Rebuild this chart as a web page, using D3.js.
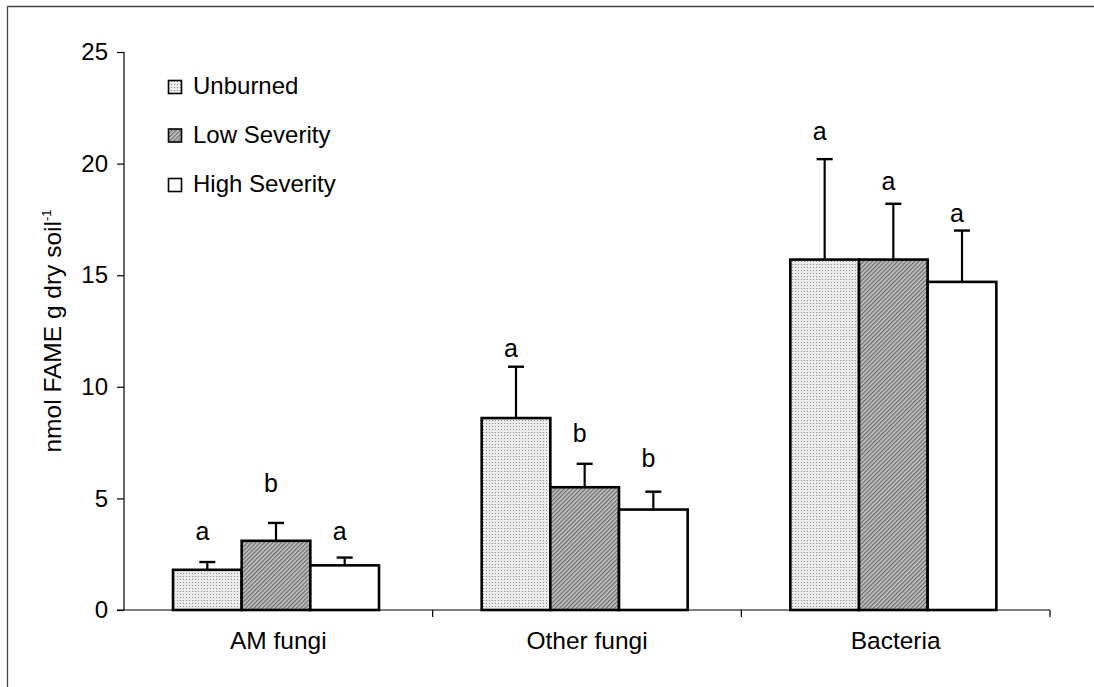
<!DOCTYPE html>
<html><head><meta charset="utf-8">
<script src="https://cdn.jsdelivr.net/npm/d3@7"></script>
<style>body{margin:0;background:#fff}svg{display:block}text{font-family:"Liberation Sans",Arial,sans-serif;fill:#000}</style>
</head><body><svg id="c" width="1094" height="687"></svg>
<script>
const categories = ["AM fungi", "Other fungi", "Bacteria"];
const series = ["Unburned", "Low Severity", "High Severity"];
const means = {
  "Unburned":      [1.8, 8.6, 15.7],
  "Low Severity":  [3.1, 5.5, 15.7],
  "High Severity": [2.0, 4.5, 14.7]
};
const errors = {
  "Unburned":      [0.35, 2.3, 4.5],
  "Low Severity":  [0.8, 1.05, 2.5],
  "High Severity": [0.35, 0.8, 2.3]
};
const letters = {
  "Unburned":      ["a", "a", "a"],
  "Low Severity":  ["b", "b", "a"],
  "High Severity": ["a", "b", "a"]
};
// height (in y units) at which each significance letter sits
const letterAt = {
  "Unburned":      [3.14, 11.33, 21.06],
  "Low Severity":  [5.29, 7.53, 18.82],
  "High Severity": [3.14, 6.41, 17.38]
};
const yTicks = [0, 5, 10, 15, 20, 25];

(function(){
const svg = d3.select("#c");
const defs = svg.append("defs");
const dots = defs.append("pattern").attr("id","dots").attr("width",3).attr("height",3).attr("patternUnits","userSpaceOnUse");
dots.append("rect").attr("width",3).attr("height",3).attr("fill","#ececec");
dots.append("rect").attr("width",1).attr("height",1).attr("fill","#8a8a8a");
const hatch = defs.append("pattern").attr("id","hatch").attr("width",3).attr("height",3).attr("patternUnits","userSpaceOnUse").attr("patternTransform","rotate(45)");
hatch.append("rect").attr("width",3).attr("height",3).attr("fill","#c6c6c6");
hatch.append("rect").attr("width",1.3).attr("height",3).attr("fill","#6a6a6a");
const fills = {"Unburned":"url(#dots)","Low Severity":"url(#hatch)","High Severity":"#fff"};

// frame
svg.append("line").attr("x1",8).attr("x2",1094).attr("y1",6.5).attr("y2",6.5).attr("stroke","#444").attr("stroke-width",1.3);
svg.append("line").attr("x1",7.5).attr("x2",7.5).attr("y1",6).attr("y2",687).attr("stroke","#444").attr("stroke-width",1.3);

const pL = 124, pR = 1050, pT = 52, pB = 610;
const y = d3.scaleLinear().domain([0,25]).range([pB, pT]);
const x0 = d3.scaleBand().domain(categories).range([pL, pR]);
const x1 = d3.scaleBand().domain(series).range([49, 49+206]);

// y axis
const ya = svg.append("g").attr("transform",`translate(${pL},0)`)
  .call(d3.axisLeft(y).tickValues(yTicks).tickSize(7).tickPadding(9));
ya.select(".domain").attr("stroke","#000").attr("stroke-width",1.2).attr("d",`M0,${y(25)}V${pB}`);
ya.selectAll(".tick line").attr("stroke","#000").attr("stroke-width",1.2);
ya.selectAll(".tick text").style("font-size","24px").style("font-family","Liberation Sans, Arial, sans-serif").attr("fill","#000");

// x axis
const xa = svg.append("g").attr("transform",`translate(0,${pB})`);
xa.append("line").attr("x1",pL-7).attr("x2",pR).attr("y1",0).attr("y2",0).attr("stroke","#000").attr("stroke-width",1.2);
const bounds = categories.map(c => x0(c)).concat([pR]);
xa.selectAll(".bt").data(bounds.slice(1)).enter().append("line")
  .attr("x1",d=>d).attr("x2",d=>d).attr("y1",0).attr("y2",7).attr("stroke","#000").attr("stroke-width",1.2);
xa.selectAll(".cl").data(categories).enter().append("text")
  .attr("x",d=>x0(d)+x0.bandwidth()/2).attr("y",39).attr("text-anchor","middle").style("font-size","24.5px").text(d=>d);

// y label
svg.append("text").attr("transform","translate(61,331) rotate(-90)").attr("text-anchor","middle")
  .style("font-size","24.5px")
  .html('nmol FAME g dry soil<tspan dy="-10" style="font-size:13px">-1</tspan>');

// bars
const g = svg.append("g");
series.forEach(s => {
  categories.forEach((c,i) => {
    const bx = x0(c) + x1(s), bw = x1.bandwidth();
    const v = means[s][i], e = errors[s][i];
    const cx = bx + bw/2;
    g.append("line").attr("x1",cx).attr("x2",cx).attr("y1",y(v)).attr("y2",y(v+e)).attr("stroke","#000").attr("stroke-width",2.2);
    g.append("line").attr("x1",cx-8).attr("x2",cx+8).attr("y1",y(v+e)).attr("y2",y(v+e)).attr("stroke","#000").attr("stroke-width",2.4);
    g.append("text").attr("x",cx-5).attr("y",y(letterAt[s][i])).attr("text-anchor","middle").style("font-size","25px").text(letters[s][i]);
  });
});
series.forEach(s => {
  categories.forEach((c,i) => {
    const bx = x0(c) + x1(s), bw = x1.bandwidth();
    g.append("rect").attr("x",bx).attr("y",y(means[s][i])).attr("width",bw).attr("height",pB-y(means[s][i]))
      .attr("fill",fills[s]).attr("stroke","#000").attr("stroke-width",2.6);
  });
});

// legend
const lg = svg.append("g");
series.forEach((s,i) => {
  const ly = [87,135.5,185][i];
  lg.append("rect").attr("x",168.5).attr("y",ly-6.5).attr("width",13).attr("height",13).attr("fill",fills[s]).attr("stroke","#000").attr("stroke-width",1.6);
  lg.append("text").attr("x",193).attr("y",ly+7).style("font-size","24px").text(s);
});
})();
</script></body></html>
